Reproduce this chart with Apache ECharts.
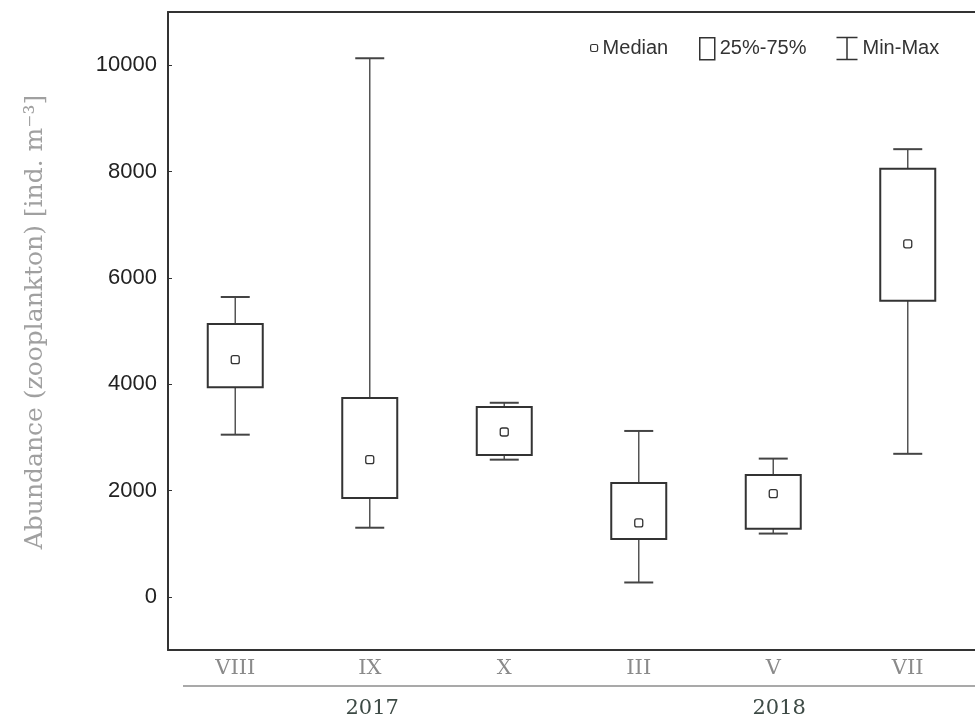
<!DOCTYPE html>
<html>
<head>
<meta charset="utf-8">
<script src="https://cdn.jsdelivr.net/npm/echarts@6/dist/echarts.min.js"></script>
<style>
html,body{margin:0;padding:0;background:#fff;}
#chart{width:975px;height:723px;}
</style>
</head>
<body>
<div id="chart"></div>
<script>
// ---- data ----
const categories = ['VIII', 'IX', 'X', 'III', 'V', 'VII'];
const minVals    = [3050, 1300, 2580, 270, 1190, 2690];
const q1Vals     = [3940, 1860, 2670, 1090, 1280, 5570];
const medianVals = [4460, 2580, 3100, 1390, 1940, 6640];
const q3Vals     = [5130, 3740, 3570, 2140, 2290, 8050];
const maxVals    = [5640, 10130, 3650, 3120, 2600, 8420];
const yTickValues = [0, 2000, 4000, 6000, 8000, 10000];
const yearLabels = ['2017', '2018'];
const yearGroups = [['VIII', 'IX', 'X'], ['III', 'V', 'VII']];

const chart = echarts.init(document.getElementById('chart'));

const whiskerData = categories.map((c, i) => [i, minVals[i], maxVals[i]]);
const boxData = categories.map((c, i) => [i, q1Vals[i], q3Vals[i]]);
const medianData = categories.map((c, i) => [i, medianVals[i]]);

const GRID = {left: 168, top: 12, width: 814, height: 638};

function yearGraphics() {
  const band = GRID.width / categories.length;
  return yearLabels.map((y, k) => {
    const mid = categories.indexOf(yearGroups[k][1]);
    return {
      type: 'text',
      left: GRID.left + band * (mid + 0.5) - 26,
      top: 698,
      style: {text: y, font: '21px "DejaVu Serif"', fill: '#3d4a45'}
    };
  });
}

const legendText = {fontFamily: 'Liberation Sans', fontSize: 20, color: '#333'};

const option = {
  backgroundColor: '#fff',
  animation: false,
  grid: GRID,
  legend: [
    {left: 590, top: 38, padding: 0, itemWidth: 7, itemHeight: 7, itemGap: 0, textStyle: legendText,
     data: [{name: 'Median', icon: 'roundRect', itemStyle: {color: '#fff', borderColor: '#333', borderWidth: 1.2}}]},
    {left: 699, top: 37, padding: 0, itemWidth: 15, itemHeight: 22, itemGap: 0, textStyle: legendText,
     data: [{name: '25%-75%', icon: 'rect', itemStyle: {color: '#fff', borderColor: '#333', borderWidth: 1.5}}]},
    {left: 834, top: 35, padding: 0, itemWidth: 21, itemHeight: 22, itemGap: 0, textStyle: legendText,
     data: [{name: 'Min-Max', icon: 'path://M0,0L21,0M10.5,0L10.5,22M0,22L21,22', itemStyle: {color: 'none', borderColor: '#333', borderWidth: 1.5}}]}
  ],
  xAxis: [
    {
      type: 'category', data: categories, position: 'bottom', boundaryGap: true,
      axisLine: {onZero: false, lineStyle: {color: '#333', width: 2}},
      axisTick: {inside: true, alignWithLabel: true, length: 3, lineStyle: {color: '#555'}},
      axisLabel: {margin: 8, fontFamily: 'DejaVu Serif', fontSize: 21, color: '#8a8a8a'},
      splitLine: {show: false}
    },
    {
      type: 'category', data: categories, position: 'top', boundaryGap: true,
      axisLine: {onZero: false, lineStyle: {color: '#333', width: 2}},
      axisTick: {inside: true, alignWithLabel: true, length: 4, lineStyle: {color: '#333'}},
      axisLabel: {show: false},
      splitLine: {show: false}
    }
  ],
  yAxis: {
    type: 'value', min: -1000, max: 11000,
    name: 'Abundance (zooplankton) [ind. m⁻³]',
    nameLocation: 'middle', nameRotate: 90, nameGap: 120,
    nameTextStyle: {fontFamily: 'DejaVu Serif', fontSize: 25, color: '#a0a0a0', padding: [0, 0, 0, 18]},
    axisLine: {show: true, onZero: false, lineStyle: {color: '#333', width: 2}},
    axisTick: {show: true, inside: true, length: 4, customValues: yTickValues, lineStyle: {color: '#333'}},
    axisLabel: {customValues: yTickValues, margin: 11, fontFamily: 'Liberation Sans', fontSize: 22, color: '#222',
                formatter: v => String(v)},
    splitLine: {show: false}
  },
  graphic: [
    {type: 'line', shape: {x1: 183, y1: 686, x2: 975, y2: 686}, style: {stroke: '#8c8c8c', lineWidth: 1.5}},
    ...yearGraphics()
  ],
  series: [
    {
      name: 'Min-Max', type: 'custom', data: whiskerData, z: 2,
      encode: {x: 0, y: [1, 2]},
      renderItem: function (params, api) {
        const i = api.value(0);
        const lo = api.coord([i, api.value(1)]);
        const hi = api.coord([i, api.value(2)]);
        const cw = 14.5;
        return {type: 'group', children: [
          {type: 'line', shape: {x1: lo[0], y1: lo[1], x2: hi[0], y2: hi[1]}, style: {stroke: '#555', lineWidth: 1.5}},
          {type: 'line', shape: {x1: lo[0] - cw, y1: lo[1], x2: lo[0] + cw, y2: lo[1]}, style: {stroke: '#444', lineWidth: 2}},
          {type: 'line', shape: {x1: hi[0] - cw, y1: hi[1], x2: hi[0] + cw, y2: hi[1]}, style: {stroke: '#444', lineWidth: 2}}
        ]};
      }
    },
    {
      name: '25%-75%', type: 'custom', data: boxData, z: 3,
      encode: {x: 0, y: [1, 2]},
      renderItem: function (params, api) {
        const i = api.value(0);
        const lo = api.coord([i, api.value(1)]);
        const hi = api.coord([i, api.value(2)]);
        const w = 55;
        return {type: 'rect', shape: {x: lo[0] - w / 2, y: hi[1], width: w, height: lo[1] - hi[1]},
                style: {fill: '#fff', stroke: '#333', lineWidth: 2}};
      }
    },
    {
      name: 'Median', type: 'scatter', data: medianData, z: 4,
      symbol: 'roundRect', symbolSize: 8,
      itemStyle: {color: '#fff', borderColor: '#333', borderWidth: 1.3, opacity: 1}
    }
  ]
};

chart.setOption(option);
</script>
</body>
</html>
